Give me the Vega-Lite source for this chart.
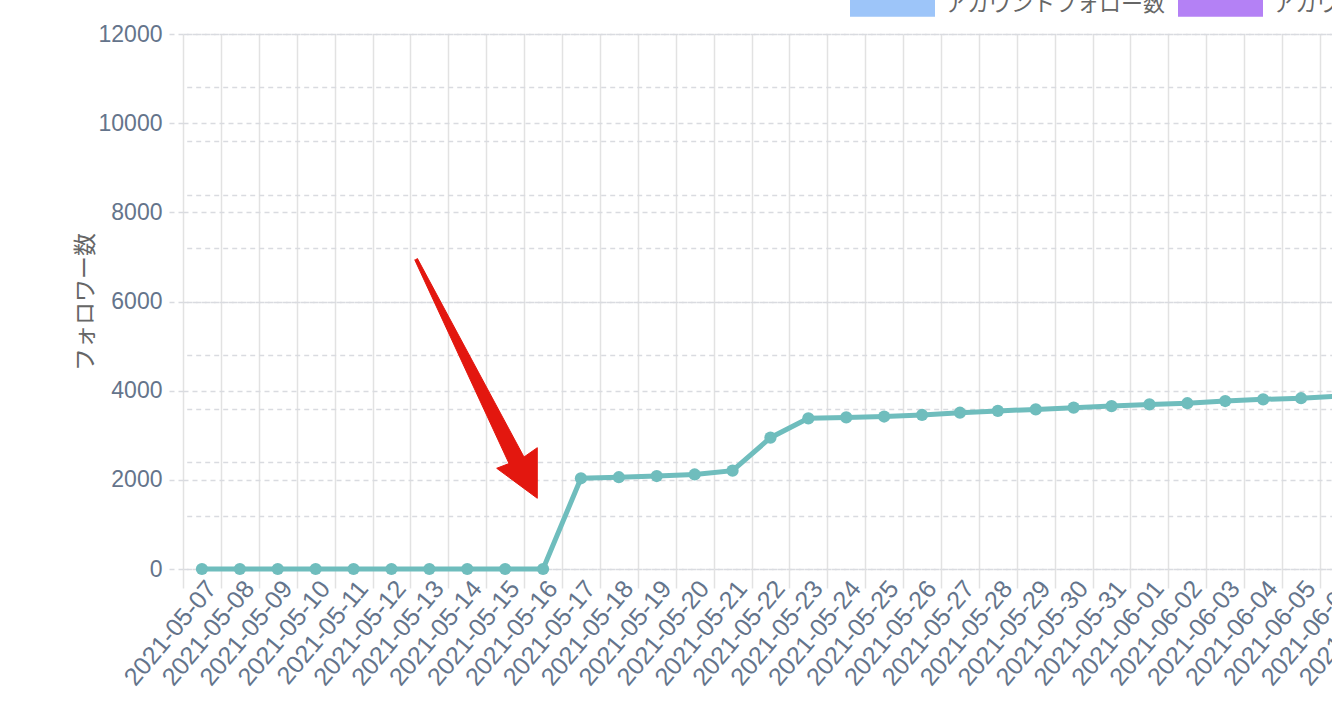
{
  "$schema": "https://vega.github.io/schema/vega-lite/v6.json",
  "autosize": {"type": "none"},
  "padding": {"left": 183, "top": 34, "right": -101.7, "bottom": 157},
  "width": 1250.7,
  "height": 535,
  "background": "white",
  "config": {"view": {"stroke": null}, "font": "Liberation Sans"},
  "datasets": {
    "followers": [
      {"date": "2021-05-07", "series": "フォロワー数", "value": 0},
      {"date": "2021-05-08", "series": "フォロワー数", "value": 0},
      {"date": "2021-05-09", "series": "フォロワー数", "value": 0},
      {"date": "2021-05-10", "series": "フォロワー数", "value": 0},
      {"date": "2021-05-11", "series": "フォロワー数", "value": 0},
      {"date": "2021-05-12", "series": "フォロワー数", "value": 0},
      {"date": "2021-05-13", "series": "フォロワー数", "value": 0},
      {"date": "2021-05-14", "series": "フォロワー数", "value": 0},
      {"date": "2021-05-15", "series": "フォロワー数", "value": 0},
      {"date": "2021-05-16", "series": "フォロワー数", "value": 0},
      {"date": "2021-05-17", "series": "フォロワー数", "value": 2035},
      {"date": "2021-05-18", "series": "フォロワー数", "value": 2058},
      {"date": "2021-05-19", "series": "フォロワー数", "value": 2085},
      {"date": "2021-05-20", "series": "フォロワー数", "value": 2120},
      {"date": "2021-05-21", "series": "フォロワー数", "value": 2205},
      {"date": "2021-05-22", "series": "フォロワー数", "value": 2945},
      {"date": "2021-05-23", "series": "フォロワー数", "value": 3380},
      {"date": "2021-05-24", "series": "フォロワー数", "value": 3400},
      {"date": "2021-05-25", "series": "フォロワー数", "value": 3420},
      {"date": "2021-05-26", "series": "フォロワー数", "value": 3455},
      {"date": "2021-05-27", "series": "フォロワー数", "value": 3505},
      {"date": "2021-05-28", "series": "フォロワー数", "value": 3545},
      {"date": "2021-05-29", "series": "フォロワー数", "value": 3580},
      {"date": "2021-05-30", "series": "フォロワー数", "value": 3618},
      {"date": "2021-05-31", "series": "フォロワー数", "value": 3655},
      {"date": "2021-06-01", "series": "フォロワー数", "value": 3692},
      {"date": "2021-06-02", "series": "フォロワー数", "value": 3718},
      {"date": "2021-06-03", "series": "フォロワー数", "value": 3768},
      {"date": "2021-06-04", "series": "フォロワー数", "value": 3805},
      {"date": "2021-06-05", "series": "フォロワー数", "value": 3830},
      {"date": "2021-06-06", "series": "フォロワー数", "value": 3880}
    ],
    "arrow": [
      {"k": 1, "q": 5.613, "v": 6938},
      {"k": 2, "q": 8.102, "v": 2366},
      {"k": 3, "q": 7.777, "v": 2259},
      {"k": 4, "q": 8.848, "v": 1586},
      {"k": 5, "q": 8.848, "v": 2721},
      {"k": 6, "q": 8.497, "v": 2512},
      {"k": 7, "q": 5.682, "v": 6969}
    ]
  },
  "layer": [
    {
      "data": {"name": "followers"},
      "encoding": {
        "x": {
          "field": "date",
          "type": "ordinal",
          "scale": {
            "type": "band",
            "paddingInner": 0,
            "paddingOuter": 0,
            "domain": ["2021-05-07","2021-05-08","2021-05-09","2021-05-10","2021-05-11","2021-05-12","2021-05-13","2021-05-14","2021-05-15","2021-05-16","2021-05-17","2021-05-18","2021-05-19","2021-05-20","2021-05-21","2021-05-22","2021-05-23","2021-05-24","2021-05-25","2021-05-26","2021-05-27","2021-05-28","2021-05-29","2021-05-30","2021-05-31","2021-06-01","2021-06-02","2021-06-03","2021-06-04","2021-06-05","2021-06-06","2021-06-07","2021-06-08"]
          },
          "axis": {
            "title": null,
            "tickBand": "extent",
            "grid": true,
            "gridColor": "#e2e2e2",
            "gridWidth": 1.5,
            "ticks": true,
            "tickSize": 19,
            "tickColor": "#e2e2e2",
            "tickWidth": 1.5,
            "domain": false,
            "labelAngle": -50,
            "labelAlign": "right",
            "labelBaseline": "top",
            "labelPadding": -12,
            "labelFont": "Liberation Sans",
            "labelFontSize": 25,
            "labelColor": "#64748b",
            "labelOverlap": false,
            "labelBound": false,
            "labelLimit": 300
          }
        },
        "y": {
          "field": "value",
          "type": "quantitative",
          "scale": {"domain": [0, 12000], "nice": false, "zero": true},
          "axis": {
            "values": [0, 2000, 4000, 6000, 8000, 10000, 12000],
            "format": "d",
            "title": "フォロワー数",
            "titleFont": "Noto Sans CJK JP",
            "titleFontSize": 23,
            "titleFontWeight": "normal",
            "titleColor": "#666666",
            "titlePadding": 1,
            "labelFont": "Liberation Sans",
            "labelFontSize": 23,
            "labelColor": "#64748b",
            "labelPadding": 5,
            "tickSize": 16,
            "tickColor": "#d9dbe0",
            "tickDash": [5, 4],
            "tickWidth": 1.5,
            "grid": true,
            "gridColor": "#d9dbe0",
            "gridDash": [5, 4],
            "gridWidth": 1.5,
            "domain": false
          }
        }
      },
      "layer": [
        {"mark": {"type": "line", "color": "#6fbdbd", "strokeWidth": 5}},
        {
          "mark": {"type": "point", "filled": true, "size": 150, "opacity": 1},
          "encoding": {
            "color": {
              "field": "series",
              "type": "nominal",
              "scale": {
                "domain": ["フォロワー数", "アカウントフォロー数", "アカウントツイート数"],
                "range": ["#6fbdbd", "#9dc5f9", "#b481f5"]
              },
              "legend": {
                "orient": "none",
                "legendX": 667,
                "legendY": -73,
                "direction": "horizontal",
                "values": ["アカウントフォロー数", "アカウントツイート数"],
                "title": null,
                "padding": 0,
                "symbolType": "M-1,-0.3L1,-0.3L1,0.3L-1,0.3Z",
                "symbolSize": 7225,
                "symbolStrokeWidth": 0,
                "symbolOpacity": 1,
                "labelFont": "Noto Sans CJK JP",
                "labelFontSize": 22,
                "labelColor": "#666666",
                "labelOffset": 10,
                "columnPadding": 12,
                "labelLimit": 400
              }
            }
          }
        }
      ]
    },
    {
      "data": {"name": "arrow"},
      "mark": {"type": "line", "fill": "#e3170f", "stroke": "#e3170f", "strokeWidth": 1, "strokeJoin": "miter"},
      "encoding": {
        "x": {"field": "q", "type": "quantitative", "scale": {"domain": [-0.5, 32.5], "nice": false, "zero": false}, "axis": null},
        "y": {
          "field": "v",
          "type": "quantitative",
          "scale": {"domain": [0, 12000], "nice": false, "zero": true},
          "axis": {
            "orient": "right",
            "values": [0, 1200, 2400, 3600, 4800, 6000, 7200, 8400, 9600, 10800, 12000],
            "labels": false,
            "ticks": false,
            "domain": false,
            "title": null,
            "grid": true,
            "gridColor": "#d9dbe0",
            "gridDash": [5, 4],
            "gridWidth": 1.5
          }
        },
        "order": {"field": "k", "type": "quantitative"}
      }
    }
  ],
  "resolve": {"scale": {"x": "independent"}, "axis": {"x": "independent", "y": "independent"}}
}
